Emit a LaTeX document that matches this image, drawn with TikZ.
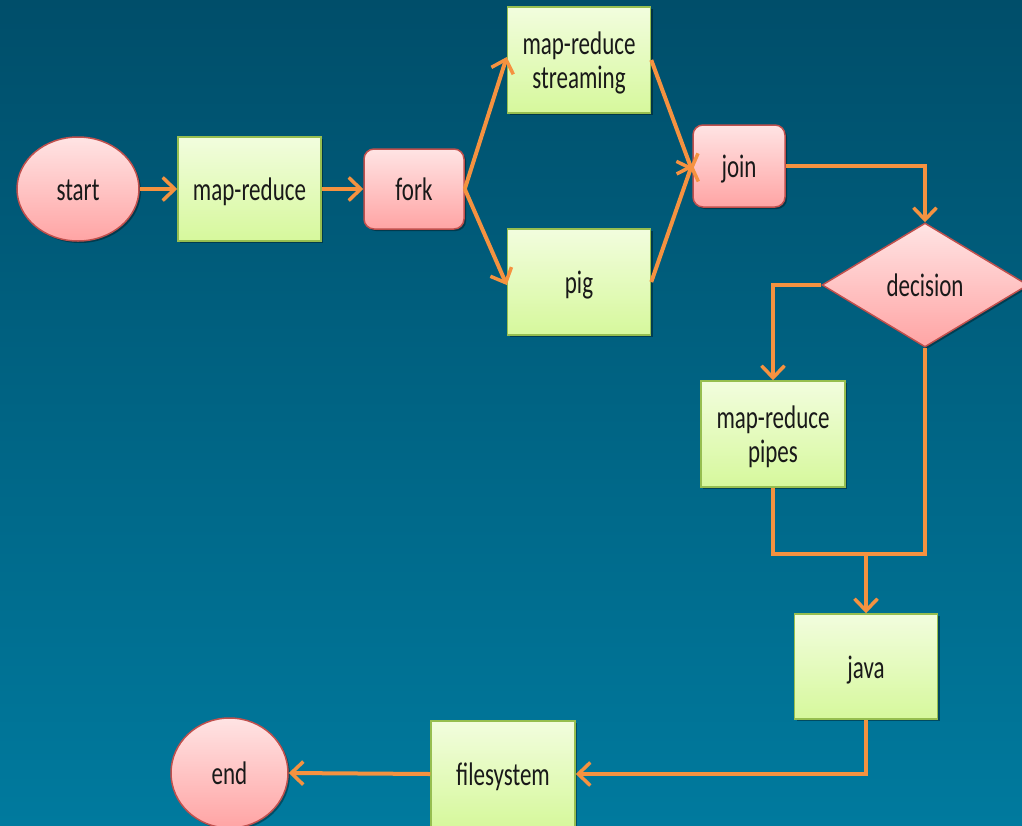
\documentclass[tikz,border=0pt]{standalone}
\usepackage{fontspec}
\setmainfont{Carlito}
\usetikzlibrary{arrows.meta,shapes.geometric,shadows}
\definecolor{bgtop}{RGB}{0,78,106}
\definecolor{bgbot}{RGB}{0,122,158}
\definecolor{grtop}{RGB}{242,253,222}
\definecolor{grbot}{RGB}{214,248,156}
\definecolor{grline}{RGB}{150,190,80}
\definecolor{pktop}{RGB}{255,228,228}
\definecolor{pkbot}{RGB}{255,164,164}
\definecolor{pkline}{RGB}{192,80,77}
\definecolor{arr}{RGB}{245,146,64}
\definecolor{txt}{RGB}{25,25,25}
\newcommand\vtxt[1]{\raisebox{-5pt}[\height][\depth]{\scalebox{1}[1.42]{\begin{tabular}{@{}c@{}}#1\end{tabular}}}}
\tikzset{
  base/.style={line width=1.5pt, text=txt, font=\fontsize{23}{23.5}\selectfont, align=center, inner sep=0pt,
    drop shadow={shadow xshift=2pt, shadow yshift=-2pt, fill=black, opacity=0.35}},
  gbox/.style={base, rectangle, draw=grline, top color=grtop, bottom color=grbot, minimum width=143pt, minimum height=105pt},
  pround/.style={base, rectangle, rounded corners=10pt, draw=pkline, top color=pktop, bottom color=pkbot},
  pell/.style={base, ellipse, draw=pkline, top color=pktop, bottom color=pkbot},
  pdia/.style={base, diamond, draw=pkline, top color=pktop, bottom color=pkbot, minimum width=206pt, minimum height=124pt},
  conn/.style={draw=arr, line width=4pt},
  flow/.style={conn, -{Straight Barb[length=12pt,width=23pt,line width=3.5pt]}}
}
\begin{document}
\begin{tikzpicture}[x=1pt,y=-1pt]
\shade[top color=bgtop, bottom color=bgbot] (0,0) rectangle (1022,825);
\useasboundingbox (0,0) rectangle (1022,825);

\node[pell, minimum width=122pt, minimum height=104pt] (start) at (78,189) {\vtxt{start}};
\node[gbox, minimum width=143pt, minimum height=104pt] (mr) at (249.5,189) {\vtxt{map-reduce}};
\node[pround, minimum width=100pt, minimum height=80pt] (fork) at (414,189) {\vtxt{fork}};
\node[gbox, minimum height=106pt] (stream) at (579,60) {\vtxt{map-reduce\\streaming}};
\node[gbox, minimum height=106pt] (pig) at (579,282) {\vtxt{pig}};
\node[pround, minimum width=92pt, minimum height=82pt] (join) at (739,166) {\vtxt{join}};
\node[pdia] (dec) at (925,285) {\vtxt{decision}};
\node[gbox, minimum width=144pt, minimum height=106pt] (pipes) at (773,434) {\vtxt{map-reduce\\pipes}};
\node[gbox, minimum width=143pt, minimum height=105pt] (java) at (866,666.5) {\vtxt{java}};
\node[gbox, minimum width=144pt, minimum height=106pt] (fs) at (503,774) {\vtxt{filesystem}};
\node[pell, minimum width=117pt, minimum height=110pt] (end) at (229.5,773) {\vtxt{end}};

\coordinate (mrg) at (866,554);

\draw[flow] (start) -- (mr);
\draw[flow] (mr) -- (fork);
\draw[flow] (fork.east) -- ([yshift=3pt]stream.west);
\draw[flow] (fork.east) -- ([yshift=-3pt]pig.west);
\draw[flow] (stream.east) -- ([yshift=-5pt]join.west);
\draw[flow] (pig.east) -- ([yshift=2pt]join.west);
\draw[flow] (join.east) -| (dec.north);
\draw[flow] (dec.west) -| (pipes.north);
\draw[conn] (pipes.south) |- (mrg);
\draw[conn] (dec.south) |- (mrg);
\draw[flow] ([yshift=-2pt]mrg) -- (java.north);
\draw[flow] (java.south) |- (fs.east);
\draw[flow] (fs.west) -- (end.east);
\end{tikzpicture}
\end{document}
